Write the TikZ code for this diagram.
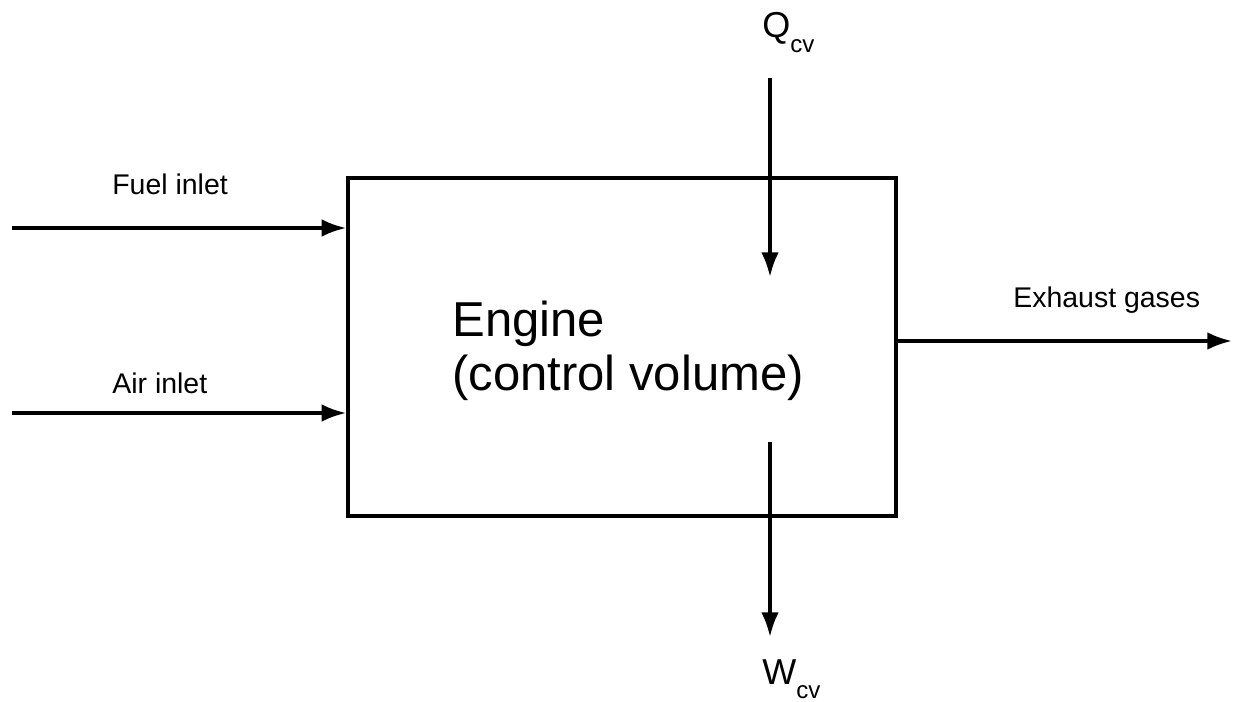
\documentclass[tikz,border=0pt]{standalone}
\usepackage{fontspec}
\setmainfont{Liberation Sans}
\usetikzlibrary{arrows.meta}
\tikzset{
  flow/.style={line width=2pt},
  lbl/.style={inner sep=0pt,font=\fontsize{16.2}{19}\selectfont},
  sub/.style={inner sep=0pt,font=\fontsize{20.5}{24}\selectfont}
}
\newcommand{\cvsub}{\raisebox{-8.5pt}{\fontsize{13.7}{15}\selectfont cv}}
\begin{document}
\begin{tikzpicture}[>={Latex[length=14pt,width=10pt]},x=0.02cm,y=-0.02cm]
\useasboundingbox (0,0) rectangle (1236,702);
\node[draw,line width=2pt,minimum width=10.96cm,minimum height=6.76cm,inner sep=0pt] (CV) at (622,347) {};
\node[inner sep=0pt,align=left,anchor=base west,font=\fontsize{27.9}{30.2}\selectfont] (E) at (452,390) {Engine\\(control volume)};
\node[lbl,anchor=base west] (FI) at (112,195) {Fuel inlet};
\node[lbl,anchor=base west] (AI) at (112,393) {Air inlet};
\node[lbl,anchor=base west] (EG) at (1013,307) {Exhaust gases};
\node[sub,anchor=base west] (Q) at (762,38) {Q\cvsub};
\node[sub,anchor=base west] (W) at (762,684) {W\cvsub};
\coordinate (F0) at (12,228);
\coordinate (A0) at (12,413);
\coordinate (X1) at (1232,341);
\coordinate (Q0) at (770,78);
\coordinate (Q1) at (770,277);
\coordinate (W0) at (770,442);
\coordinate (W1) at (770,637);
\draw[flow,->] (F0) -- (F0 -| CV.west);
\draw[flow,->] (A0) -- (A0 -| CV.west);
\draw[flow,->] (X1 -| CV.east) -- (X1);
\draw[flow,->] (Q0) -- (Q1);
\draw[flow,->] (W0) -- (W1);
\end{tikzpicture}
\end{document}
